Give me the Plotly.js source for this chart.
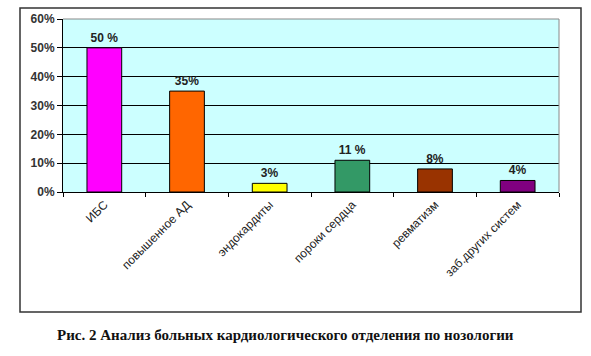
<!DOCTYPE html>
<html><head><meta charset="utf-8">
<script src="https://cdn.plot.ly/plotly-3.0.1.min.js"></script>
<style>html,body{margin:0;padding:0;background:#fff}</style>
</head><body>
<div id="chart" style="width:591px;height:356px"></div>
<script>
const categories = ["ИБС", "повышенное АД", "эндокардиты", "пороки сердца", "ревматизм", "заб.других систем"];
const values = [50, 35, 3, 11, 8, 4];
const valueLabels = ["50 %", "35%", "3%", "11 %", "8%", "4%"];
const barColors = ["#FF00FF", "#FF6600", "#FFFF00", "#339966", "#993300", "#800080"];
const yTickVals = [0, 10, 20, 30, 40, 50, 60];
const yTickText = ["0%", "10%", "20%", "30%", "40%", "50%", "60%"];
const caption = "Рис. 2 Анализ больных кардиологического отделения по нозологии";

const L = 63, R = 559, T = 19, B = 192, W = 591, H = 356;
const pw = R - L, ph = B - T;
const px = x => (x - L) / pw;
const py = y => (B - y) / ph;

const trace = {
  type: 'bar', x: categories, y: values,
  marker: {color: barColors, line: {color: '#000', width: 1}},
  text: valueLabels, textposition: 'outside', cliponaxis: false,
  textfont: {family: 'Liberation Sans, Arial', size: 12, color: '#222', weight: 'bold'},
  width: 0.42, hoverinfo: 'none'
};
const layout = {
  width: W, height: H,
  margin: {l: L, r: W - R, t: T, b: H - B, pad: 0},
  paper_bgcolor: '#fff', plot_bgcolor: '#CCFFFF',
  showlegend: false,
  font: {family: 'Liberation Sans, Arial', color: '#222'},
  xaxis: {
    type: 'category', tickangle: -45, tickson: 'boundaries',
    ticks: 'outside', ticklen: 4, tickcolor: '#000',
    showline: true, linecolor: '#000', linewidth: 1, showgrid: false,
    tickfont: {size: 12, family: 'Liberation Sans, Arial', color: '#222'},
    range: [-0.5, 5.5], fixedrange: true
  },
  yaxis: {
    range: [0, 60], tickvals: yTickVals, ticktext: yTickText,
    ticks: 'outside', ticklen: 5, tickcolor: '#000',
    showline: true, linecolor: '#000', linewidth: 1,
    showgrid: true, gridcolor: '#000', gridwidth: 1, zeroline: false,
    tickfont: {size: 12, family: 'Liberation Sans, Arial', color: '#333', weight: 'bold'},
    fixedrange: true
  },
  shapes: [
    {type: 'rect', xref: 'paper', yref: 'paper', x0: px(20), x1: px(581), y0: py(312), y1: py(8),
     line: {color: '#333', width: 1.5}, fillcolor: 'rgba(0,0,0,0)', layer: 'below'},
    {type: 'line', xref: 'paper', yref: 'paper', x0: 0, x1: 1, y0: 1, y1: 1, line: {color: '#888', width: 1}},
    {type: 'line', xref: 'paper', yref: 'paper', x0: 1, x1: 1, y0: 0, y1: 1, line: {color: '#888', width: 1}}
  ],
  annotations: [
    {xref: 'paper', yref: 'paper', x: px(285), y: py(335), text: '<b>' + caption + '</b>', showarrow: false,
     font: {family: 'Liberation Serif, Times New Roman', size: 15, color: '#111'}, xanchor: 'center', yanchor: 'middle'}
  ]
};
Plotly.newPlot('chart', [trace], layout, {staticPlot: true, displayModeBar: false});
</script>
</body></html>
